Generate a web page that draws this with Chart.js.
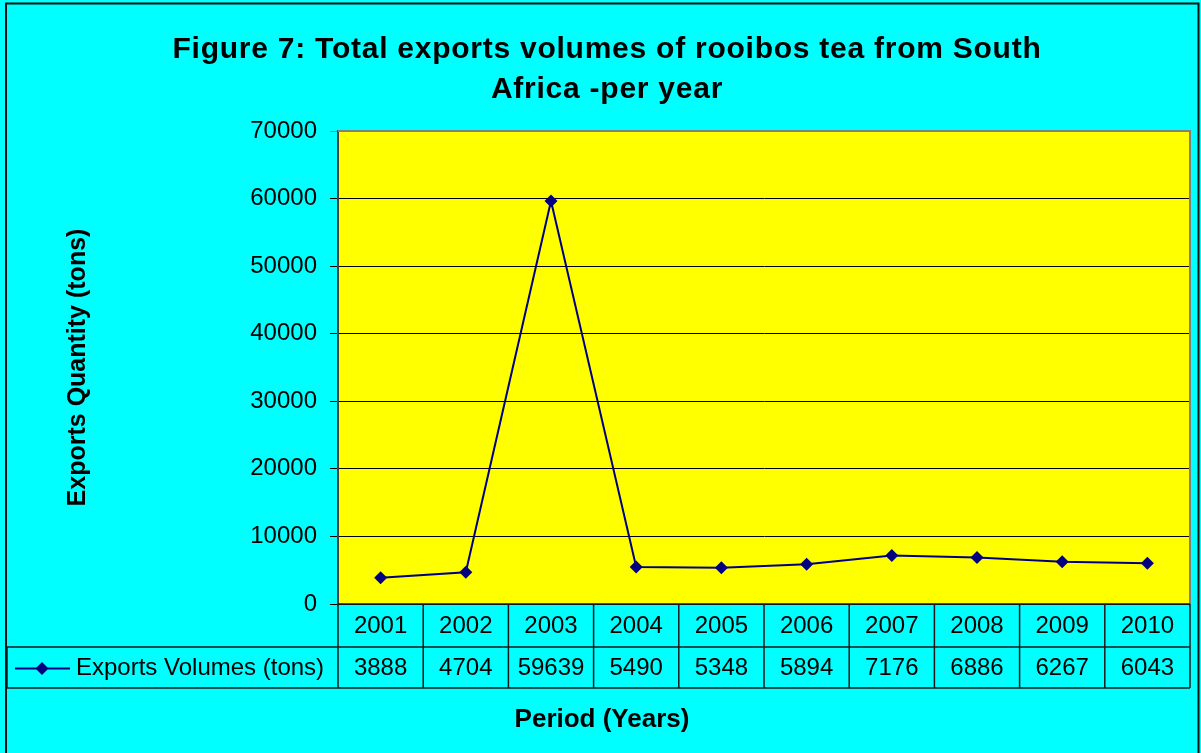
<!DOCTYPE html>
<html>
<head>
<meta charset="utf-8">
<script src="https://cdn.jsdelivr.net/npm/chart.js@4.4.1/dist/chart.umd.min.js"></script>
<style>
  html, body { margin: 0; padding: 0; background: #00FFFF; }
  #wrap { width: 1201px; height: 753px; position: relative; }
</style>
</head>
<body>
<div id="wrap"><canvas id="c"></canvas></div>
<script>
// ---- data ----
const years = ['2001', '2002', '2003', '2004', '2005', '2006', '2007', '2008', '2009', '2010'];
const exportVolumes = [3888, 4704, 59639, 5490, 5348, 5894, 7176, 6886, 6267, 6043];
const seriesName = 'Exports Volumes (tons)';
const titleLines = ['Figure 7: Total exports volumes of rooibos tea from South', 'Africa -per year'];
const yTitle = 'Exports Quantity (tons)';
const xTitle = 'Period (Years)';
const yMin = 0, yMax = 70000, yStep = 10000;

const FONT = "'Liberation Sans', Arial, Helvetica, sans-serif";
const LINE_COLOR = '#000080';

function drawDiamond(ctx, x, y, r) {
  ctx.beginPath();
  ctx.moveTo(x - r, y);
  ctx.lineTo(x, y - r);
  ctx.lineTo(x + r, y);
  ctx.lineTo(x, y + r);
  ctx.closePath();
  ctx.fillStyle = LINE_COLOR;
  ctx.fill();
}

const decorPlugin = {
  id: 'decor',
  beforeDraw(chart) {
    const ctx = chart.ctx;
    const a = chart.chartArea;
    ctx.save();
    ctx.fillStyle = '#00FFFF';
    ctx.fillRect(0, 0, chart.width, chart.height);
    ctx.fillStyle = '#FFFF00';
    ctx.fillRect(a.left, a.top, a.right - a.left, a.bottom - a.top);
    ctx.restore();
  },
  afterDraw(chart) {
    const ctx = chart.ctx;
    const a = chart.chartArea;
    const xs = chart.scales.x;
    ctx.save();

    // plot area border (top/right gray)
    ctx.strokeStyle = '#808080';
    ctx.lineWidth = 2;
    ctx.beginPath();
    ctx.moveTo(a.left, a.top);
    ctx.lineTo(a.right, a.top);
    ctx.lineTo(a.right, a.bottom);
    ctx.stroke();

    // data table
    const half = (xs.getPixelForValue(1) - xs.getPixelForValue(0)) / 2;
    const top = a.bottom;
    const mid = top + 43;
    const bot = mid + 41;
    const tblLeft = 7;
    ctx.strokeStyle = '#1a1a1a';
    ctx.lineWidth = 1.5;
    ctx.beginPath();
    ctx.moveTo(a.left, top); ctx.lineTo(a.right, top);
    ctx.moveTo(tblLeft, mid); ctx.lineTo(a.right, mid);
    ctx.moveTo(tblLeft, bot); ctx.lineTo(a.right, bot);
    ctx.moveTo(tblLeft, mid); ctx.lineTo(tblLeft, bot);
    for (let i = 0; i <= years.length; i++) {
      const bx = xs.getPixelForValue(i) - half;
      ctx.moveTo(bx, top); ctx.lineTo(bx, bot);
    }
    ctx.stroke();

    ctx.fillStyle = '#000';
    ctx.font = '24px ' + FONT;
    ctx.textAlign = 'center';
    ctx.textBaseline = 'middle';
    years.forEach((y, i) => {
      const cx = xs.getPixelForValue(i);
      ctx.fillText(y, cx, (top + mid) / 2 + 1);
      ctx.fillText(String(exportVolumes[i]), cx, (mid + bot) / 2 + 1);
    });

    // legend key in table
    const ly = (mid + bot) / 2 + 1;
    ctx.strokeStyle = LINE_COLOR;
    ctx.lineWidth = 2;
    ctx.beginPath();
    ctx.moveTo(15, ly); ctx.lineTo(70, ly);
    ctx.stroke();
    drawDiamond(ctx, 42, ly, 6.5);
    ctx.fillStyle = '#000';
    ctx.textAlign = 'left';
    ctx.fillText(seriesName, 76, ly);

    // chart title
    ctx.textAlign = 'center';
    ctx.textBaseline = 'alphabetic';
    ctx.font = 'bold 30px ' + FONT;
    if ('letterSpacing' in ctx) ctx.letterSpacing = '0.75px';
    ctx.fillText(titleLines[0], 607, 58);
    ctx.fillText(titleLines[1], 607, 98);
    if ('letterSpacing' in ctx) ctx.letterSpacing = '0px';

    // x axis title
    ctx.font = 'bold 26px ' + FONT;
    ctx.fillText(xTitle, 602, 727);

    // outer border
    ctx.strokeStyle = '#111';
    ctx.lineWidth = 2;
    ctx.strokeRect(6, 3.5, 1192.5, 770);
    ctx.restore();
  }
};

new Chart(document.getElementById('c'), {
  type: 'line',
  data: {
    labels: years,
    datasets: [{
      label: seriesName,
      data: exportVolumes,
      borderColor: LINE_COLOR,
      backgroundColor: LINE_COLOR,
      borderWidth: 2,
      pointStyle: 'rectRot',
      pointRadius: 6.5,
      pointHoverRadius: 6.5,
      pointBorderWidth: 0,
      pointBackgroundColor: LINE_COLOR,
      tension: 0
    }]
  },
  options: {
    responsive: true,
    maintainAspectRatio: false,
    animation: false,
    devicePixelRatio: 1,
    layout: { padding: { left: 0, right: 11, top: 131, bottom: 149 } },
    plugins: {
      legend: { display: false },
      title: { display: false },
      tooltip: { enabled: false }
    },
    scales: {
      x: {
        type: 'category',
        offset: true,
        display: false
      },
      y: {
        min: yMin,
        max: yMax,
        afterFit(scale) { scale.width = 338; },
        ticks: {
          stepSize: yStep,
          color: '#000',
          padding: 13,
          font: { family: FONT, size: 24 },
          callback: (v) => String(v)
        },
        grid: {
          color: (c) => (c.tick && c.tick.value === yMax ? '#808080' : '#000'),
          lineWidth: 1,
          tickLength: 8,
          drawTicks: true
        },
        border: { color: '#404040', width: 2 },
        title: {
          display: true,
          text: yTitle,
          color: '#000',
          font: { family: FONT, size: 25, weight: 'bold' },
          padding: { top: 63, bottom: 0 }
        }
      }
    }
  },
  plugins: [decorPlugin]
});
</script>
</body>
</html>
